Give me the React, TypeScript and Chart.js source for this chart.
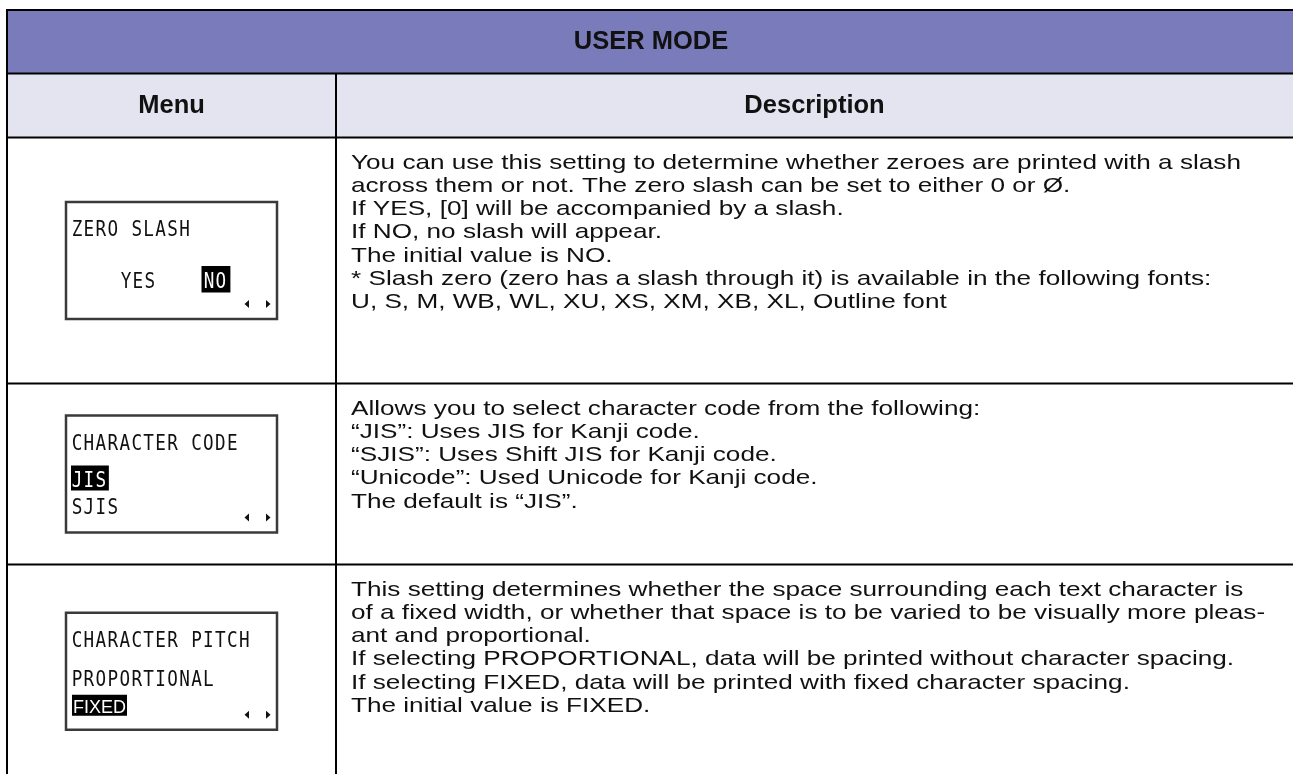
import React, { useEffect, useRef } from "react";
import { Chart, registerables } from "chart.js";

Chart.register(...registerables);

// ---------- content ----------
const TITLE = "USER MODE";
const COLUMN_HEADERS = ["Menu", "Description"];

const SCREEN_TITLES = ["ZERO SLASH", "CHARACTER CODE", "CHARACTER PITCH"];
const SCREEN1_OPTIONS = ["YES", "NO"];
const SCREEN2_OPTIONS = ["JIS", "SJIS"];
const SCREEN3_OPTIONS = ["PROPORTIONAL", "FIXED"];
const SELECTED_OPTION = [1, 0, 1];

const DESCRIPTION_ZERO_SLASH = [
  "You can use this setting to determine whether zeroes are printed with a slash",
  "across them or not. The zero slash can be set to either 0 or Ø.",
  "If YES, [0] will be accompanied by a slash.",
  "If NO, no slash will appear.",
  "The initial value is NO.",
  "* Slash zero (zero has a slash through it) is available in the following fonts:",
  "U, S, M, WB, WL, XU, XS, XM, XB, XL, Outline font",
];
const DESCRIPTION_CHARACTER_CODE = [
  "Allows you to select character code from the following:",
  "\u201CJIS\u201D: Uses JIS for Kanji code.",
  "\u201CSJIS\u201D: Uses Shift JIS for Kanji code.",
  "\u201CUnicode\u201D: Used Unicode for Kanji code.",
  "The default is \u201CJIS\u201D.",
];
const DESCRIPTION_CHARACTER_PITCH = [
  "This setting determines whether the space surrounding each text character is",
  "of a fixed width, or whether that space is to be varied to be visually more pleas-",
  "ant and proportional.",
  "If selecting PROPORTIONAL, data will be printed without character spacing.",
  "If selecting FIXED, data will be printed with fixed character spacing.",
  "The initial value is FIXED.",
];

// ---------- layout (in scale units) ----------
const W = 1293;
const H = 774;
const TABLE_LEFT = 7;
const TABLE_RIGHT = 1300;
const COL_SPLIT = 336;
const ROW_EDGES = [10, 73.5, 137.5, 383.5, 564.5, 778];
const HEADER_FILL = "#7a7bba";
const SUBHEADER_FILL = "#e4e4f1";
const TEXT_COLOR = "#111111";

const BODY_FONT = "21px 'Liberation Sans', Arial, sans-serif";
const BODY_SX = 1.245;
const BODY_LINE = 23.3;
const BODY_X = 351;
const BODY_FIRST_BASELINE = 31;

const HEAD_FONT = "bold 25.5px 'Liberation Sans', Arial, sans-serif";

const LCD_FONT = "20.5px 'DejaVu Sans Mono', monospace";
const LCD_CELL = 11.95;
const LCD_SX = 0.86;
const LCD_LEFT = 66;
const LCD_RIGHT = 277;
const LCD_HEIGHT = 117;

function drawText(
  ctx: CanvasRenderingContext2D,
  text: string,
  x: number,
  y: number,
  sx: number,
  align: CanvasTextAlign
) {
  ctx.save();
  ctx.translate(x, y);
  ctx.scale(sx, 1);
  ctx.textAlign = align;
  ctx.textBaseline = "alphabetic";
  ctx.fillText(text, 0, 0);
  ctx.restore();
}

function drawMono(ctx: CanvasRenderingContext2D, text: string, x: number, y: number) {
  ctx.font = LCD_FONT;
  for (let i = 0; i < text.length; i++) {
    const ch = text[i];
    if (ch === " ") continue;
    drawText(ctx, ch, x + (i + 0.5) * LCD_CELL, y, LCD_SX, "center");
  }
}

function drawArrows(ctx: CanvasRenderingContext2D, xs: (v: number) => number, ys: (v: number) => number, cy: number) {
  ctx.fillStyle = TEXT_COLOR;
  const l = xs(247);
  const r = xs(268);
  const c = ys(cy);
  ctx.beginPath();
  ctx.moveTo(l - 2.5, c);
  ctx.lineTo(l + 2, c - 4);
  ctx.lineTo(l + 2, c + 4);
  ctx.closePath();
  ctx.fill();
  ctx.beginPath();
  ctx.moveTo(r + 2.5, c);
  ctx.lineTo(r - 2, c - 4);
  ctx.lineTo(r - 2, c + 4);
  ctx.closePath();
  ctx.fill();
}

function highlight(
  ctx: CanvasRenderingContext2D,
  x0: number,
  y0: number,
  x1: number,
  y1: number
) {
  ctx.fillStyle = "#000000";
  ctx.fillRect(x0, y0, x1 - x0, y1 - y0);
}

const tablePlugin = {
  id: "tableDraw",
  afterDraw(chart: any) {
    const ctx: CanvasRenderingContext2D = chart.ctx;
    const xs = (v: number) => chart.scales.x.getPixelForValue(v);
    const ys = (v: number) => chart.scales.y.getPixelForValue(v);
    ctx.save();

    ctx.fillStyle = "#ffffff";
    ctx.fillRect(0, 0, chart.width, chart.height);

    ctx.fillStyle = HEADER_FILL;
    ctx.fillRect(xs(TABLE_LEFT), ys(ROW_EDGES[0]), xs(TABLE_RIGHT) - xs(TABLE_LEFT), ys(ROW_EDGES[1]) - ys(ROW_EDGES[0]));
    ctx.fillStyle = SUBHEADER_FILL;
    ctx.fillRect(xs(TABLE_LEFT), ys(ROW_EDGES[1]), xs(TABLE_RIGHT) - xs(TABLE_LEFT), ys(ROW_EDGES[2]) - ys(ROW_EDGES[1]));

    ctx.strokeStyle = "#000000";
    ctx.lineWidth = 2;
    for (let i = 0; i < ROW_EDGES.length - 1; i++) {
      ctx.beginPath();
      ctx.moveTo(xs(TABLE_LEFT) - 1, ys(ROW_EDGES[i]));
      ctx.lineTo(xs(TABLE_RIGHT), ys(ROW_EDGES[i]));
      ctx.stroke();
    }
    ctx.beginPath();
    ctx.moveTo(xs(TABLE_LEFT), ys(ROW_EDGES[0]));
    ctx.lineTo(xs(TABLE_LEFT), ys(ROW_EDGES[ROW_EDGES.length - 1]));
    ctx.stroke();
    ctx.beginPath();
    ctx.moveTo(xs(COL_SPLIT), ys(ROW_EDGES[1]));
    ctx.lineTo(xs(COL_SPLIT), ys(ROW_EDGES[ROW_EDGES.length - 1]));
    ctx.stroke();

    ctx.fillStyle = TEXT_COLOR;
    ctx.font = HEAD_FONT;
    drawText(ctx, TITLE, xs((TABLE_LEFT + 1293) / 2 + 1), ys(ROW_EDGES[0] + 38.5), 1, "center");
    drawText(ctx, COLUMN_HEADERS[0], xs((TABLE_LEFT + COL_SPLIT) / 2), ys(ROW_EDGES[1] + 39), 1, "center");
    drawText(ctx, COLUMN_HEADERS[1], xs((COL_SPLIT + 1293) / 2), ys(ROW_EDGES[1] + 39), 1, "center");

    const descs = [DESCRIPTION_ZERO_SLASH, DESCRIPTION_CHARACTER_CODE, DESCRIPTION_CHARACTER_PITCH];
    descs.forEach((lines, r) => {
      const top = ROW_EDGES[r + 2];
      lines.forEach((line, i) => {
        ctx.fillStyle = TEXT_COLOR;
        ctx.font = BODY_FONT;
        drawText(ctx, line, xs(BODY_X), ys(top + BODY_FIRST_BASELINE + i * BODY_LINE), BODY_SX, "left");
      });
    });

    const optionSets = [SCREEN1_OPTIONS, SCREEN2_OPTIONS, SCREEN3_OPTIONS];
    for (let r = 0; r < 3; r++) {
      const rowTop = ROW_EDGES[r + 2];
      const rowBottom = ROW_EDGES[r + 3];
      const boxTop = (rowTop + rowBottom) / 2 - LCD_HEIGHT / 2;
      ctx.strokeStyle = "#3a3a3a";
      ctx.lineWidth = 2.5;
      ctx.strokeRect(xs(LCD_LEFT), ys(boxTop), xs(LCD_RIGHT) - xs(LCD_LEFT), ys(boxTop + LCD_HEIGHT) - ys(boxTop));

      ctx.fillStyle = TEXT_COLOR;
      drawMono(ctx, SCREEN_TITLES[r], xs(LCD_LEFT + 5), ys(boxTop + 34));

      const opts = optionSets[r];
      const sel = SELECTED_OPTION[r];
      if (r === 0) {
        const optX = [120, 203];
        opts.forEach((o, i) => {
          if (i === sel) {
            highlight(ctx, xs(optX[i] - 1.5), ys(boxTop + 64), xs(optX[i] - 1.5 + o.length * LCD_CELL + 5), ys(boxTop + 90.5));
            ctx.fillStyle = "#ffffff";
          } else {
            ctx.fillStyle = TEXT_COLOR;
          }
          drawMono(ctx, o, xs(optX[i]), ys(boxTop + 86));
        });
        drawArrows(ctx, xs, ys, boxTop + 102);
      } else {
        const optBase = r === 1 ? [71, 98] : [73, 100];
        opts.forEach((o, i) => {
          const bx = LCD_LEFT + 5;
          const by = boxTop + optBase[i];
          if (i === sel) {
            if (r === 2) {
              ctx.font = "18px 'Liberation Sans', Arial, sans-serif";
              const w = ctx.measureText(o).width;
              highlight(ctx, xs(bx + 1), ys(by - 18), xs(bx + w + 3), ys(by + 3));
              ctx.fillStyle = "#ffffff";
              drawText(ctx, o, xs(bx + 2), ys(by), 1, "left");
              return;
            }
            highlight(ctx, xs(bx), ys(by - 21), xs(bx + o.length * LCD_CELL + 2), ys(by + 4));
            ctx.fillStyle = "#ffffff";
          } else {
            ctx.fillStyle = TEXT_COLOR;
          }
          drawMono(ctx, o, xs(bx), ys(by));
        });
        drawArrows(ctx, xs, ys, boxTop + 102);
      }
    }

    ctx.restore();
  },
};

export default function App() {
  const canvasRef = useRef<HTMLCanvasElement | null>(null);

  useEffect(() => {
    document.body.style.margin = "0";
    const canvas = canvasRef.current;
    if (!canvas) return;
    const chart = new Chart(canvas, {
      type: "scatter",
      data: { datasets: [] },
      options: {
        animation: false,
        responsive: false,
        devicePixelRatio: 1,
        events: [],
        layout: { padding: 0 },
        plugins: { legend: { display: false }, tooltip: { enabled: false } },
        scales: {
          x: { type: "linear", min: 0, max: W, display: false },
          y: { type: "linear", min: 0, max: H, reverse: true, display: false },
        },
      },
      plugins: [tablePlugin],
    } as any);
    return () => chart.destroy();
  }, []);

  return (
    <div style={{ width: W, height: H, position: "relative", overflow: "hidden" }}>
      <canvas ref={canvasRef} width={W} height={H} style={{ display: "block" }} />
    </div>
  );
}
